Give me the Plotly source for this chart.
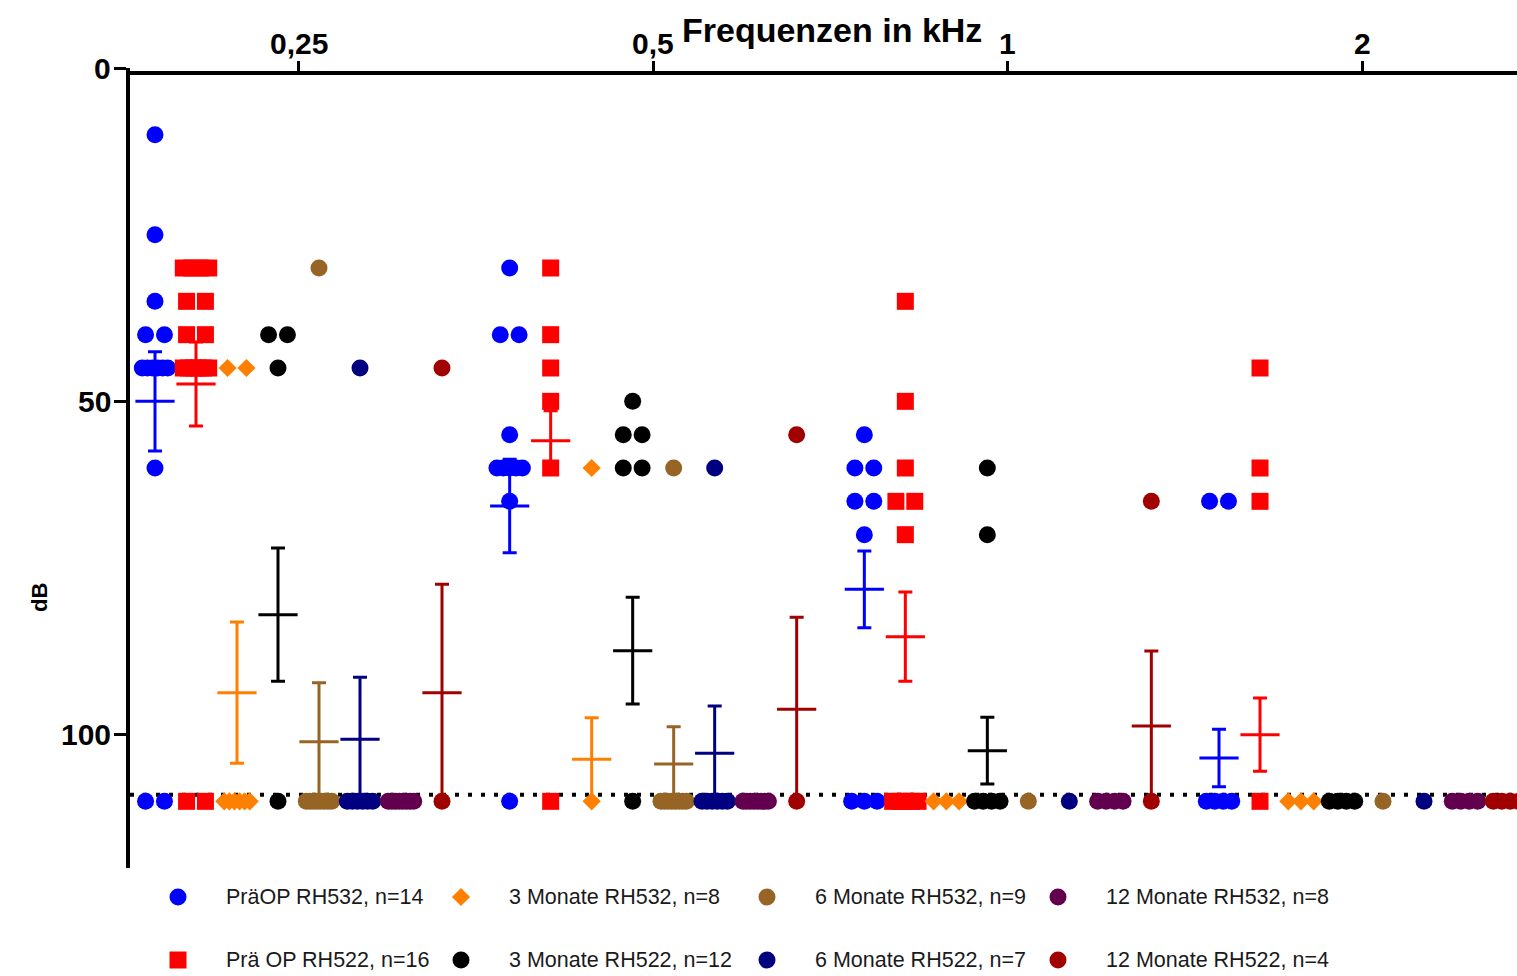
import plotly.graph_objects as go

# ---------------- data (dB HL) ----------------
frequencies = ['0,25', '0,5', '1', '2']

series_names = ['PräOP RH532, n=14', 'Prä OP RH522, n=16',
                '3 Monate RH532, n=8', '3 Monate RH522, n=12',
                '6 Monate RH532, n=9', '6 Monate RH522, n=7',
                '12 Monate RH532, n=8', '12 Monate RH522, n=4']

# individual values per frequency (0,25 / 0,5 / 1 / 2 kHz)
praeop_rh532 = [[10, 25, 35, 40, 40, 45, 45, 45, 45, 45, 45, 60, 110, 110],
                [30, 40, 40, 55, 60, 60, 60, 60, 60, 65, 110],
                [55, 60, 60, 65, 65, 70, 110, 110, 110],
                [65, 65, 110, 110, 110, 110]]
praeop_rh522 = [[30, 30, 30, 30, 35, 35, 40, 40, 45, 45, 45, 45, 45, 45, 110, 110],
                [30, 40, 45, 50, 60, 110],
                [35, 50, 60, 65, 65, 70, 110, 110, 110, 110, 110],
                [45, 60, 65, 110]]
m3_rh532 = [[45, 45, 110, 110, 110, 110, 110, 110],
            [60, 110],
            [110, 110, 110],
            [110, 110, 110]]
m3_rh522 = [[40, 40, 45, 110],
            [50, 55, 55, 60, 60, 110],
            [60, 70, 110, 110, 110, 110],
            [110, 110, 110, 110]]
m6_rh532 = [[30, 110, 110, 110, 110, 110, 110, 110, 110],
            [60, 110, 110, 110, 110, 110, 110, 110, 110],
            [110],
            [110]]
m6_rh522 = [[45, 110, 110, 110, 110, 110, 110],
            [60, 110, 110, 110, 110, 110, 110],
            [110],
            [110]]
m12_rh532 = [[110] * 8, [110] * 8, [110] * 4, [110] * 4]
m12_rh522 = [[45, 110], [55, 110], [65, 110], [110, 110, 110, 110]]

# mean and SEM per frequency (None = no bar drawn)
praeop_rh532_mean = [50.0, 65.7, 78.2, 103.5]
praeop_rh532_sem = [7.45, 7.0, 5.75, 4.3]
praeop_rh522_mean = [47.4, 55.9, 85.3, 100.0]
praeop_rh522_sem = [6.3, 4.5, 6.7, 5.5]
m3_rh532_mean = [93.7, 103.7, None, None]
m3_rh532_sem = [10.6, 6.25, None, None]
m3_rh522_mean = [82.0, 87.4, 102.4, None]
m3_rh522_sem = [10.0, 8.0, 5.0, None]
m6_rh532_mean = [101.05, 104.4, None, None]
m6_rh532_sem = [8.85, 5.6, None, None]
m6_rh522_mean = [100.7, 102.8, None, None]
m6_rh522_sem = [9.3, 7.1, None, None]
m12_rh532_mean = [None, None, None, None]
m12_rh532_sem = [None, None, None, None]
m12_rh522_mean = [93.7, 96.2, 98.7, None]
m12_rh522_sem = [16.25, 13.8, 11.25, None]

limit_line = 109   # dotted reference line
y_ticks = [0, 50, 100]

points = [praeop_rh532, praeop_rh522, m3_rh532, m3_rh522, m6_rh532, m6_rh522, m12_rh532, m12_rh522]
means = [praeop_rh532_mean, praeop_rh522_mean, m3_rh532_mean, m3_rh522_mean,
         m6_rh532_mean, m6_rh522_mean, m12_rh532_mean, m12_rh522_mean]
sems = [praeop_rh532_sem, praeop_rh522_sem, m3_rh532_sem, m3_rh522_sem,
        m6_rh532_sem, m6_rh522_sem, m12_rh532_sem, m12_rh522_sem]

# ---------------- styles ----------------
colors = ['#0000FF', '#FF0000', '#FF8000', '#000000', '#966424', '#000080', '#62004F', '#A00000']
symbols = ['circle', 'square', 'diamond', 'circle', 'circle', 'circle', 'circle', 'circle']
sizes = [17, 17, 14, 17, 17, 17, 17, 17]
FONT = 'Liberation Sans, Arial, sans-serif'

W, H = 1517, 976
PX_L, PX_R, PX_T, PX_B = 130, 1517, 68, 868
COL_PX = 41.0          # column spacing in px
GROUP = 354.67 / COL_PX  # group spacing in column units
X0_PX = 155.0          # first column centre
Y_MAX = 120.0


def spread(vals, d=0.46, w=0.62):
    out = [0.0] * len(vals)
    groups = {}
    for i, v in enumerate(vals):
        groups.setdefault(v, []).append(i)
    for v, idx in groups.items():
        n = len(idx)
        if n > 1:
            s = min(d, w / (n - 1))
            for j, i in enumerate(idx):
                out[i] = (j - (n - 1) / 2) * s
    return out


fig = go.Figure()

# individual points
for k in range(len(series_names)):
    xs, ys = [], []
    for g in range(len(frequencies)):
        vals = points[k][g]
        offs = spread(vals)
        for v, o in zip(vals, offs):
            xs.append(g * GROUP + k + o)
            ys.append(v)
    fig.add_trace(go.Scatter(x=xs, y=ys, mode='markers', showlegend=False,
                             marker=dict(symbol=symbols[k], size=sizes[k], color=colors[k],
                                         line=dict(width=0)),
                             xaxis='x', yaxis='y'))

# mean +/- SEM
for k in range(len(series_names)):
    xs, ys, es = [], [], []
    for g in range(len(frequencies)):
        if means[k][g] is not None:
            xs.append(g * GROUP + k)
            ys.append(means[k][g])
            es.append(sems[k][g])
    if not xs:
        continue
    fig.add_trace(go.Scatter(x=xs, y=ys, mode='markers', showlegend=False,
                             marker=dict(symbol='line-ew', size=28,
                                         line=dict(width=3, color=colors[k])),
                             error_y=dict(type='data', array=es, visible=True,
                                          color=colors[k], thickness=3, width=7),
                             xaxis='x', yaxis='y'))

# legend (manual, drawn in a pixel overlay)
leg_marker_x = [178, 461, 767, 1058]
leg_text_x = [224, 507, 813, 1104]
leg_y = [897, 960]
for k, name in enumerate(series_names):
    col, row = k // 2, k % 2
    fig.add_trace(go.Scatter(x=[leg_marker_x[col]], y=[leg_y[row]], mode='markers',
                             showlegend=False, xaxis='x2', yaxis='y2',
                             marker=dict(symbol=symbols[k], size=sizes[k], color=colors[k],
                                         line=dict(width=0))))
    fig.add_annotation(x=leg_text_x[col] / W, y=1 - leg_y[row] / H, xref='paper', yref='paper',
                       text=name, showarrow=False, xanchor='left', yanchor='middle',
                       font=dict(family=FONT, size=21.5, color='#1a1a1a'))

# dotted line
fig.add_shape(type='line', xref='x domain', yref='y', x0=0, x1=1, y0=limit_line, y1=limit_line,
              line=dict(color='black', width=4, dash='4px,9px'), layer='below')

# tick labels (placed like the reference)
tick_font = dict(family=FONT, size=30, color='black', weight='bold')
for v in y_ticks:
    fig.add_annotation(x=113 / W, y=v, xref='paper', yref='y', text=str(v), showarrow=False,
                       xanchor='right', yanchor='middle', font=tick_font)
x_tickvals = [g * GROUP + 3.5 for g in range(len(frequencies))]
for xv, lab in zip(x_tickvals, frequencies):
    fig.add_annotation(x=xv, y=1 - 43 / H, xref='x', yref='paper', text=lab, showarrow=False,
                       xanchor='center', yanchor='middle', font=tick_font)

# titles
fig.add_annotation(x=680 / W, y=1 - 30 / H, xref='paper', yref='paper', text='Frequenzen in kHz',
                   showarrow=False, xanchor='left', yanchor='middle',
                   font=dict(family=FONT, size=34, color='black', weight='bold'))
fig.add_annotation(x=39 / W, y=1 - 598 / H, xref='paper', yref='paper', text='dB',
                   showarrow=False, textangle=-90, xanchor='center', yanchor='middle',
                   font=dict(family=FONT, size=22, color='black', weight='bold'))

x_lo = (PX_L - X0_PX) / COL_PX
x_hi = (PX_R - X0_PX) / COL_PX

fig.update_layout(
    width=W, height=H,
    margin=dict(l=0, r=0, t=0, b=0),
    paper_bgcolor='white', plot_bgcolor='rgba(0,0,0,0)',
    showlegend=False,
    xaxis=dict(domain=[PX_L / W, PX_R / W], range=[x_lo, x_hi], side='top', anchor='free',
               position=1 - (PX_T + 5) / H, showline=True, linecolor='black', linewidth=4,
               ticks='outside', ticklen=10, tickwidth=3, tickcolor='black',
               tickvals=x_tickvals, showticklabels=False,
               showgrid=False, zeroline=False, automargin=False),
    yaxis=dict(domain=[1 - PX_B / H, 1 - PX_T / H], range=[Y_MAX, 0], anchor='x',
               showline=True, linecolor='black', linewidth=4,
               ticks='outside', ticklen=12, tickwidth=3, tickcolor='black',
               tickvals=y_ticks, showticklabels=False, showgrid=False, zeroline=False,
               automargin=False),
    xaxis2=dict(domain=[0, 1], range=[0, W], visible=False, anchor='y2', fixedrange=True),
    yaxis2=dict(domain=[0, 1], range=[H, 0], visible=False, anchor='x2', fixedrange=True),
)

fig.write_html("out.html", config={'displayModeBar': False},
               post_script="document.body.style.margin='0';document.body.style.overflow='hidden';")
